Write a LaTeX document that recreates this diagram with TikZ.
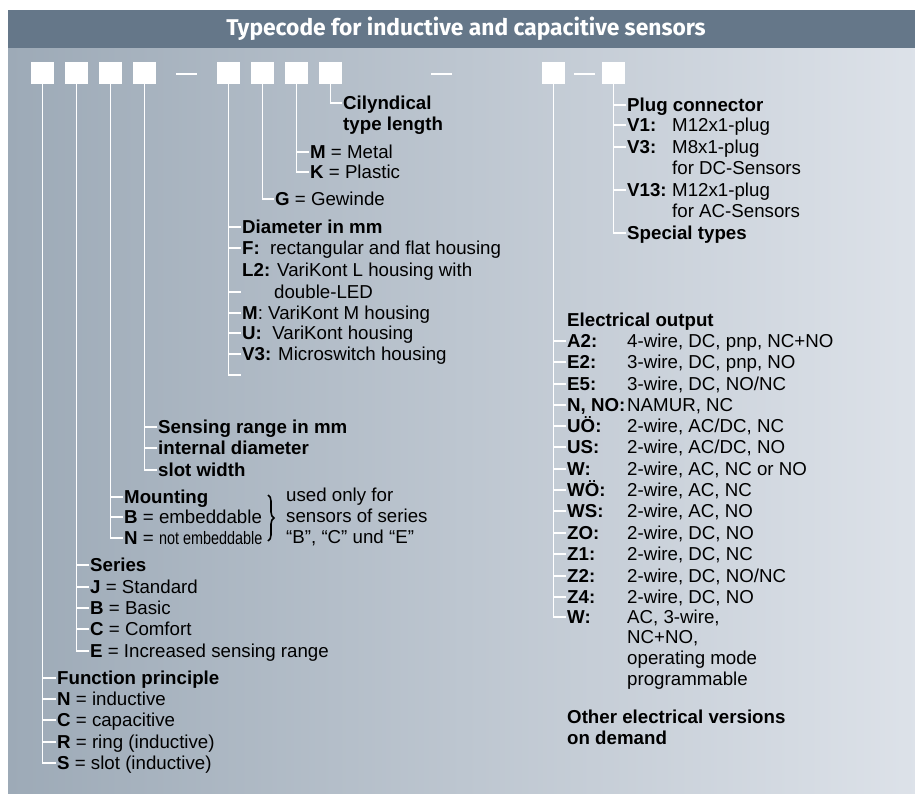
\documentclass[tikz,border=0pt]{standalone}
\usepackage{fontspec}
\setmainfont{Liberation Sans}
\newfontfamily\titlefont{Fira Sans}
\newfontfamily\narrowfont{Liberation Sans}[FakeStretch=0.8]
\usetikzlibrary{decorations.pathreplacing}
\definecolor{headgray}{HTML}{657789}
\definecolor{bodyleft}{HTML}{9DAAB7}
\definecolor{bodyright}{HTML}{DDE2E9}
\newcommand{\rowfont}{\fontsize{18.7}{21.3}\selectfont}
\newcommand{\tclabel}[2]{\makebox[#1][l]{\textbf{#2}}}
\tikzset{
  codebox/.style={fill=white, minimum width=23pt, minimum height=22pt, inner sep=0pt},
  gapbar/.style={fill=white, minimum width=21pt, minimum height=1.6pt, inner sep=0pt},
  wire/.style={white, line width=1.5pt},
  row/.style={anchor=west, inner sep=1pt, text height=15pt, text depth=2pt, font=\rowfont},
  block/.style={anchor=west, inner sep=1pt, align=left, font=\rowfont}
}

\begin{document}
\begin{tikzpicture}[x=1pt, y=-1pt]
        \useasboundingbox (0,0) rectangle (915,794);
        \fill[white] (0,0) rectangle (915,794);
        \shade[left color=bodyleft, right color=bodyright] (8,48) rectangle (920,800);
        \fill[headgray] (8,10) rectangle (920,48);
        \node[text=white, font=\titlefont\bfseries\fontsize{22.8}{26}\selectfont] (title) at (466,29) {Typecode for inductive and capacitive sensors};

        % code positions
        \node[codebox] (b1) at (42.5,73) {};
        \node[codebox] (b2) at (76.5,73) {};
        \node[codebox] (b3) at (110.5,73) {};
        \node[codebox] (b4) at (144.5,73) {};
        \node[gapbar] (g1) at (186.5,74) {};
        \node[codebox] (b5) at (228.5,73) {};
        \node[codebox] (b6) at (262.5,73) {};
        \node[codebox] (b7) at (296.5,73) {};
        \node[codebox] (b8) at (330.5,73) {};
        \node[gapbar] (g2) at (441,74) {};
        \node[codebox] (b9) at (553.5,73) {};
        \node[gapbar] (g3) at (584,74) {};
        \node[codebox] (b10) at (613.5,73) {};

        % length
        \node[row] (cyl) at (342,103) {\textbf{Cilyndical}};
        \node[row] (cyl2) at (342,124) {\textbf{type length}};
        \draw[wire] (b8.south) |- (cyl.west);

        % material
        \node[row] (mt) at (309,152) {\textbf{M} = Metal};
        \node[row] (pl) at (309,172) {\textbf{K} = Plastic};
        \draw[wire] (b7.south) |- (pl.west);
        \draw[wire] (b7.south |- mt.west) -- (mt.west);

        % thread
        \node[row] (gw) at (274,199) {\textbf{G} = Gewinde};
        \draw[wire] (b6.south) |- (gw.west);

        % diameter / housing
        \node[row] (dm) at (241,227) {\textbf{Diameter in mm}};
        \node[row] (dmF) at (241,248) {\textbf{F:}\ \ rectangular and flat housing};
        \node[row] (dmL) at (241,270) {\textbf{L2:} VariKont L housing with};
        \node[row] (dmL2) at (273,292) {double-LED};
        \node[row] (dmM) at (241,313) {\textbf{M}: VariKont M housing};
        \node[row] (dmU) at (241,333) {\textbf{U:}\ \ VariKont housing};
        \node[row] (dmV) at (241,354) {\textbf{V3:} Microswitch housing};
        \coordinate (dmEnd) at (241,375);
        \draw[wire] (b5.south) |- (dmEnd);
        \draw[wire] (b5.south |- dm.west) -- (dm.west);
        \draw[wire] (b5.south |- dmF.west) -- (dmF.west);
        \draw[wire] (b5.south |- dmL2.west) -- +(12,0);
        \draw[wire] (b5.south |- dmM.west) -- (dmM.west);
        \draw[wire] (b5.south |- dmU.west) -- (dmU.west);
        \draw[wire] (b5.south |- dmV.west) -- (dmV.west);

        % sensing range
        \node[row] (sr) at (157,427) {\textbf{Sensing range in mm}};
        \node[row] (sr2) at (157,448) {\textbf{internal diameter}};
        \node[row] (sr3) at (157,470) {\textbf{slot width}};
        \draw[wire] (b4.south) |- (sr3.west);
        \draw[wire] (b4.south |- sr.west) -- (sr.west);
        \draw[wire] (b4.south |- sr2.west) -- (sr2.west);

        % mounting
        \node[row] (mo) at (123,497) {\textbf{Mounting}};
        \node[row] (moB) at (123,517) {\textbf{B} = embeddable};
        \node[row] (moN) at (123,538) {\textbf{N} = {\narrowfont\fontsize{18}{20}\selectfont not embeddable}};
        \draw[wire] (b3.south) |- (moN.west);
        \draw[wire] (b3.south |- mo.west) -- (mo.west);
        \draw[wire] (b3.south |- moB.west) -- (moB.west);
        \coordinate (brTop) at (268,495);
        \coordinate (brBot) at (268,541);
        \draw[black, line width=1.6pt, decorate, decoration={brace, amplitude=6pt}] (brTop) -- (brBot);
        \node[block] (note) at (285,517) {used only for\\sensors of series\\“B”, “C” und “E”};

        % series
        \node[row] (se) at (89,565) {\textbf{Series}};
        \node[row] (seJ) at (89,587) {\textbf{J} = Standard};
        \node[row] (seB) at (89,608) {\textbf{B} = Basic};
        \node[row] (seC) at (89,629) {\textbf{C} = Comfort};
        \node[row] (seE) at (89,651) {\textbf{E} = Increased sensing range};
        \draw[wire] (b2.south) |- (seE.west);
        \draw[wire] (b2.south |- se.west) -- (se.west);
        \draw[wire] (b2.south |- seJ.west) -- (seJ.west);
        \draw[wire] (b2.south |- seB.west) -- (seB.west);
        \draw[wire] (b2.south |- seC.west) -- (seC.west);

        % function principle
        \node[row] (fp) at (56,678) {\textbf{Function principle}};
        \node[row] (fpN) at (56,699) {\textbf{N} = inductive};
        \node[row] (fpC) at (56,720) {\textbf{C} = capacitive};
        \node[row] (fpR) at (56,742) {\textbf{R} = ring (inductive)};
        \node[row] (fpS) at (56,763) {\textbf{S} = slot (inductive)};
        \draw[wire] (b1.south) |- (fpS.west);
        \draw[wire] (b1.south |- fp.west) -- (fp.west);
        \draw[wire] (b1.south |- fpN.west) -- (fpN.west);
        \draw[wire] (b1.south |- fpC.west) -- (fpC.west);
        \draw[wire] (b1.south |- fpR.west) -- (fpR.west);

        % plug connector
        \node[row] (pc) at (626,105) {\textbf{Plug connector}};
        \node[row] (pc1) at (626,125) {\tclabel{45pt}{V1:}M12x1-plug};
        \node[row] (pc3) at (626,147) {\tclabel{45pt}{V3:}M8x1-plug};
        \node[row] (pc3b) at (671,168) {for DC-Sensors};
        \node[row] (pc13) at (626,190) {\tclabel{45pt}{V13:}M12x1-plug};
        \node[row] (pc13b) at (671,211) {for AC-Sensors};
        \node[row] (sp) at (626,233) {\textbf{Special types}};
        \draw[wire] (b10.south) |- (sp.west);
        \draw[wire] (b10.south |- pc.west) -- (pc.west);
        \draw[wire] (b10.south |- pc1.west) -- (pc1.west);
        \draw[wire] (b10.south |- pc3.west) -- (pc3.west);
        \draw[wire] (b10.south |- pc13.west) -- (pc13.west);

        % electrical output
        \node[row] (eo) at (566,320) {\textbf{Electrical output}};
        \node[row] (eA2) at (566,341) {\tclabel{60pt}{A2:}4-wire, DC, pnp, NC+NO};
        \node[row] (eE2) at (566,362) {\tclabel{60pt}{E2:}3-wire, DC, pnp, NO};
        \node[row] (eE5) at (566,384) {\tclabel{60pt}{E5:}3-wire, DC, NO/NC};
        \node[row] (eN) at (566,405) {\tclabel{60pt}{N, NO:}NAMUR, NC};
        \node[row] (eUO) at (566,426) {\tclabel{60pt}{UÖ:}2-wire, AC/DC, NC};
        \node[row] (eUS) at (566,447) {\tclabel{60pt}{US:}2-wire, AC/DC, NO};
        \node[row] (eW) at (566,469) {\tclabel{60pt}{W:}2-wire, AC, NC or NO};
        \node[row] (eWO) at (566,490) {\tclabel{60pt}{WÖ:}2-wire, AC, NC};
        \node[row] (eWS) at (566,511) {\tclabel{60pt}{WS:}2-wire, AC, NO};
        \node[row] (eZO) at (566,533) {\tclabel{60pt}{ZO:}2-wire, DC, NO};
        \node[row] (eZ1) at (566,554) {\tclabel{60pt}{Z1:}2-wire, DC, NC};
        \node[row] (eZ2) at (566,576) {\tclabel{60pt}{Z2:}2-wire, DC, NO/NC};
        \node[row] (eZ4) at (566,597) {\tclabel{60pt}{Z4:}2-wire, DC, NO};
        \node[row] (eW3) at (566,617) {\tclabel{60pt}{W:}AC, 3-wire,};
        \node[block] (eW3b) at (626,660) {NC+NO,\\operating mode\\programmable};
        \node[block] (other) at (566,727) {\textbf{Other electrical versions}\\\textbf{on demand}};
        \draw[wire] (b9.south) |- (eW3.west);
        \draw[wire] (b9.south |- eA2.west) -- (eA2.west);
        \draw[wire] (b9.south |- eE2.west) -- (eE2.west);
        \draw[wire] (b9.south |- eE5.west) -- (eE5.west);
        \draw[wire] (b9.south |- eN.west) -- (eN.west);
        \draw[wire] (b9.south |- eUO.west) -- (eUO.west);
        \draw[wire] (b9.south |- eUS.west) -- (eUS.west);
        \draw[wire] (b9.south |- eW.west) -- (eW.west);
        \draw[wire] (b9.south |- eWO.west) -- (eWO.west);
        \draw[wire] (b9.south |- eWS.west) -- (eWS.west);
        \draw[wire] (b9.south |- eZO.west) -- (eZO.west);
        \draw[wire] (b9.south |- eZ1.west) -- (eZ1.west);
        \draw[wire] (b9.south |- eZ2.west) -- (eZ2.west);
        \draw[wire] (b9.south |- eZ4.west) -- (eZ4.west);

    \end{tikzpicture}
\end{document}
